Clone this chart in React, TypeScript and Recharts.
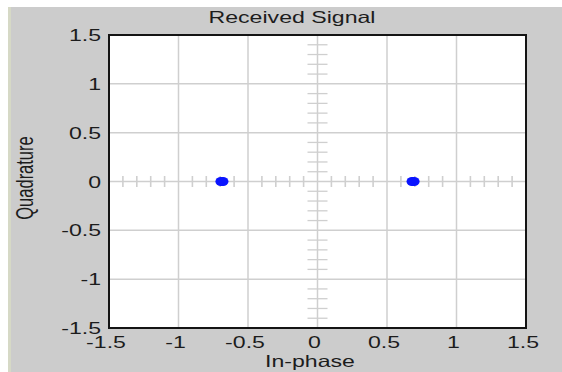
import React from 'react';
import { ScatterChart, Scatter, XAxis, YAxis, CartesianGrid, ReferenceArea, Label } from 'recharts';

const majorTicks = [-1.5, -1, -0.5, 0, 0.5, 1, 1.5];
const tickLabels = ['-1.5', '-1', '-0.5', '0', '0.5', '1', '1.5'];
const minorTicks = [-1.4, -1.3, -1.2, -1.1, -0.9, -0.8, -0.7, -0.6, -0.4, -0.3, -0.2, -0.1, 0.1, 0.2, 0.3, 0.4, 0.6, 0.7, 0.8, 0.9, 1.1, 1.2, 1.3, 1.4];
const signalI = [-0.695, -0.68, 0.68, 0.695];
const signalQ = [0, 0, 0, 0];

const signalData = signalI.map((x, i) => ({ x, y: signalQ[i] }));
const xMinorData = minorTicks.map((x) => ({ x, y: 0 }));
const yMinorData = minorTicks.map((y) => ({ x: 0, y }));

const FONT = '"Liberation Sans", Arial, sans-serif';
const SX = 1.4;
const TXT = '#1c1c1c';

const labelFor = (v: number) => {
  const i = majorTicks.indexOf(v);
  return i >= 0 ? tickLabels[i] : String(v);
};

const XTick = (props: any) => {
  const { x, y, payload } = props;
  return (
    <text transform={`translate(${x - 3},${y + 19.5}) scale(${SX},1)`} textAnchor="middle" fontFamily={FONT} fontSize={16.5} fill={TXT}>
      {labelFor(payload.value)}
    </text>
  );
};

const YTick = (props: any) => {
  const { x, y, payload } = props;
  return (
    <text transform={`translate(${x - 8},${y + 6}) scale(${SX},1)`} textAnchor="end" fontFamily={FONT} fontSize={16.5} fill={TXT}>
      {labelFor(payload.value)}
    </text>
  );
};

const XMinorShape = (props: any) => {
  const { cx, cy } = props;
  return <line x1={cx} x2={cx} y1={cy - 5.5} y2={cy + 5.5} stroke="#cfcfcf" strokeWidth={1.6} />;
};

const YMinorShape = (props: any) => {
  const { cx, cy } = props;
  return <line x1={cx - 10} x2={cx + 10} y1={cy} y2={cy} stroke="#cfcfcf" strokeWidth={1.3} />;
};

const PointShape = (props: any) => {
  const { cx, cy } = props;
  return <ellipse cx={cx} cy={cy} rx={5.5} ry={4.5} fill="#0a14ff" />;
};

export default function App() {
  return (
    <div style={{ position: 'absolute', left: 0, top: 0, width: 562, height: 372, background: '#ffffff', overflow: 'hidden' }}>
      <div style={{ position: 'absolute', left: 8, top: 7, width: 551, height: 365, background: '#cccccc', borderLeft: '3px solid #d6d9c6' }} />
      <div
        style={{
          position: 'absolute',
          left: 292,
          top: 7,
          transform: `translateX(-50%) scaleX(${SX})`,
          fontFamily: FONT,
          fontSize: 16.5,
          color: TXT,
          whiteSpace: 'nowrap',
          lineHeight: '20px',
        }}
      >
        Received Signal
      </div>
      <div style={{ position: 'absolute', left: 0, top: 0 }}>
        <ScatterChart width={562} height={372} margin={{ top: 35, right: 36, bottom: 14, left: 49 }}>
          <CartesianGrid fill="#ffffff" fillOpacity={1} stroke="#cfcfcf" strokeWidth={1.5} />
          <XAxis
            type="number"
            dataKey="x"
            domain={[-1.5, 1.5]}
            ticks={majorTicks}
            allowDataOverflow
            axisLine={false}
            tickLine={false}
            tickSize={0}
            tickMargin={0}
            height={30}
            interval={0}
            tick={<XTick />}
          >
            <Label
              content={() => (
                <text transform={`translate(310,367) scale(${SX},1)`} textAnchor="middle" fontFamily={FONT} fontSize={16.5} fill={TXT}>
                  In-phase
                </text>
              )}
            />
          </XAxis>
          <YAxis
            type="number"
            dataKey="y"
            domain={[-1.5, 1.5]}
            ticks={majorTicks}
            allowDataOverflow
            axisLine={false}
            tickLine={false}
            tickSize={0}
            tickMargin={0}
            width={60}
            interval={0}
            tick={<YTick />}
          >
            <Label
              content={() => (
                <text transform={`translate(33,178) rotate(-90) scale(1,${SX})`} textAnchor="middle" fontFamily={FONT} fontSize={16.5} fill={TXT}>
                  Quadrature
                </text>
              )}
            />
          </YAxis>
          <ReferenceArea x1={-1.5} x2={1.5} y1={-1.5} y2={1.5} fill="none" fillOpacity={0} stroke="#141414" strokeWidth={2} ifOverflow="visible" />
          <Scatter data={xMinorData} shape={<XMinorShape />} isAnimationActive={false} />
          <Scatter data={yMinorData} shape={<YMinorShape />} isAnimationActive={false} />
          <Scatter data={signalData} shape={<PointShape />} isAnimationActive={false} />
        </ScatterChart>
      </div>
    </div>
  );
}
